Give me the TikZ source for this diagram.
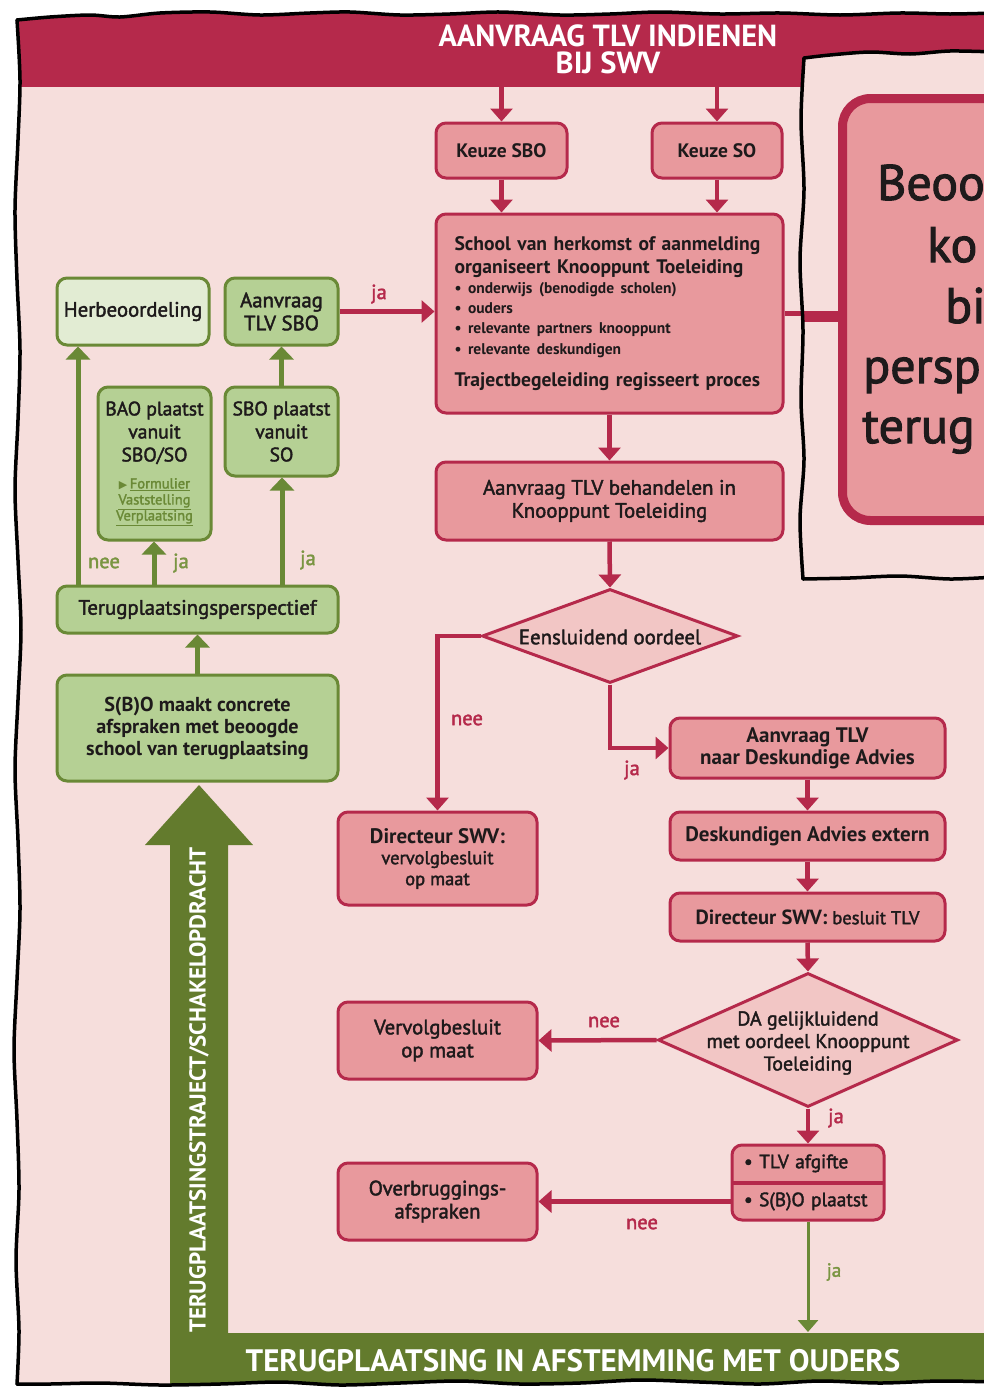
\documentclass[tikz,border=0pt]{standalone}
\usepackage{fontspec}
\setmainfont{PT Sans}
\newfontfamily\semib[FakeBold=2]{PT Sans}
\newfontfamily\symf{DejaVu Sans}
\newcommand\mybf{\rmfamily\bfseries}
\usetikzlibrary{arrows.meta,shapes.geometric,calc}
\definecolor{bgpink}{HTML}{F6DEDC}
\definecolor{crim}{HTML}{B5294B}
\definecolor{salmon}{HTML}{E8999D}
\definecolor{dpink}{HTML}{F2C6C5}
\definecolor{gdark}{HTML}{637B2D}
\definecolor{gline}{HTML}{6A8936}
\definecolor{gfill}{HTML}{B5D094}
\definecolor{glight}{HTML}{E2ECD3}
\definecolor{txt}{HTML}{1E1A1B}
\definecolor{glab}{HTML}{7A9542}
\tikzset{
  cbox/.style={draw=crim, fill=salmon, line width=3pt, rounded corners=10pt, align=center, text=txt, inner sep=0pt},
  gbox/.style={draw=gline, fill=gfill, line width=3pt, rounded corners=10pt, align=center, text=txt, inner sep=0pt},
  ddia/.style={diamond, draw=crim, fill=dpink, line width=3pt, inner sep=0pt},
  carrow/.style={draw=crim, line width=4.5pt, -{Triangle[width=22pt,length=13pt]}},
  garrow/.style={draw=gline, line width=5pt, -{Triangle[width=24pt,length=13pt]}},
  gthin/.style={draw=gline, line width=3pt, -{Triangle[width=20pt,length=12pt]}},
  clab/.style={text=crim, font=\semib\fontsize{20.5}{21}\selectfont},
  glabel/.style={text=glab, font=\semib\fontsize{20.5}{21}\selectfont},
  txtsemi/.style={font=\semib\fontsize{20.8}{23}\selectfont},
  txtbold/.style={font=\mybf\fontsize{21}{22}\selectfont},
  hdrtxt/.style={text=white, font=\mybf\fontsize{30.5}{30}\selectfont, inner sep=0pt},
  border/.style={draw=black, line width=3.5pt, line cap=round, line join=round},
  bigtxt/.style={text=txt, font=\semib\fontsize{50}{50}\selectfont, inner sep=0pt, anchor=base west},
}
\begin{document}
\begin{tikzpicture}[x=1pt,y=-1pt]
\useasboundingbox (0,0) rectangle (984,1387);
\clip (0,0) rectangle (984,1387);
\fill[bgpink] (0,0) rectangle (984,1387);
% header bar
\fill[crim] (0,0) rectangle (984,87);
\node[hdrtxt, anchor=base] (hdr1) at (608,46) {AANVRAAG TLV INDIENEN};
\node[hdrtxt, anchor=base] (hdr2) at (608,73) {BIJ SWV};

% green bars
\fill[gdark] (170,1395) -- (170,845) -- (145,845) -- (199,785) -- (253,845) -- (228,845) -- (228,1333) -- (995,1333) -- (995,1395) -- cycle;
\node[rotate=90, text=white, font=\mybf\fontsize{23}{23}\selectfont, inner sep=0pt] (vt) at (199,1090) {TERUGPLAATSINGSTRAJECT/SCHAKELOPDRACHT};
\node[text=white, font=\mybf\fontsize{31}{31}\selectfont, inner sep=0pt] (bt) at (573,1361) {TERUGPLAATSING IN AFSTEMMING MET OUDERS};

% crimson boxes
\node[cbox, minimum width=131pt, minimum height=55pt, font=\mybf\fontsize{19.5}{20}\selectfont] (ksbo) at (501.5,150.5) {Keuze SBO};
\node[cbox, minimum width=130pt, minimum height=55pt, font=\mybf\fontsize{19.5}{20}\selectfont] (kso) at (717,150.5) {Keuze SO};
\node[cbox, minimum width=347pt, minimum height=199pt, text width=310pt, align=left, font=\mybf\fontsize{19.6}{20}\selectfont] (school) at (609.5,313.5)
 {School van herkomst of aanmelding\\[3pt]
  organiseert Knooppunt Toeleiding\\
  {\fontsize{15.5}{20}\selectfont • onderwijs (benodigde scholen)}\\
  {\fontsize{15.5}{20}\selectfont • ouders}\\
  {\fontsize{15.5}{20}\selectfont • relevante partners knooppunt}\\[1pt]
  {\fontsize{15.5}{20}\selectfont • relevante deskundigen}\\[12pt]
  Trajectbegeleiding regisseert proces};
\node[cbox, txtsemi, minimum width=347pt, minimum height=78pt] (beh) at (609.5,501) {Aanvraag TLV behandelen in\\Knooppunt Toeleiding};
\node[ddia, minimum width=256pt, minimum height=94pt] (d1) at (610,636) {};
\node[txtsemi, text=txt, inner sep=0pt] (d1t) at (610,637) {Eensluidend oordeel};
\node[cbox, minimum width=199pt, minimum height=93pt, font=\semib\fontsize{18.5}{21}\selectfont] (dir1) at (437.5,858.5)
 {{\mybf\fontsize{21}{21}\selectfont Directeur SWV:}\\vervolgbesluit\\op maat};
\node[cbox, txtbold, minimum width=275pt, minimum height=60pt] (ada) at (807.5,748) {Aanvraag TLV\\naar Deskundige Advies};
\node[cbox, txtbold, minimum width=275pt, minimum height=48pt] (dae) at (807.5,836) {Deskundigen Advies extern};
\node[cbox, minimum width=275pt, minimum height=48pt, font=\semib\fontsize{18.5}{20}\selectfont] (dsb) at (807.5,917) {{\mybf\fontsize{20.5}{20}\selectfont Directeur SWV:} besluit TLV};
\node[ddia, minimum width=300pt, minimum height=134pt] (d2) at (808,1040) {};
\node[text=txt, align=center, inner sep=0pt, font=\semib\fontsize{20}{22.5}\selectfont] (d2t) at (808,1043) {DA gelijkluidend\\met oordeel Knooppunt\\Toeleiding};
\node[cbox, txtsemi, minimum width=199pt, minimum height=77pt] (verv) at (437.5,1040.5) {Vervolgbesluit\\op maat};
\node[cbox, minimum width=152pt, minimum height=75pt, text width=128pt, align=left, font=\semib\fontsize{19.3}{20}\selectfont] (tlv) at (808,1182.5) {• TLV afgifte\\[18pt]• S(B)O plaatst};
\coordinate (dv) at (808,1183);
\draw[crim, line width=4pt] ([xshift=1.5pt]tlv.west |- dv) -- ([xshift=-1.5pt]tlv.east |- dv);
\node[cbox, txtsemi, minimum width=199pt, minimum height=77pt] (ovb) at (437.5,1201.5) {Overbruggings-\\afspraken};

% green boxes
\node[gbox, fill=glight, txtsemi, minimum width=152pt, minimum height=67pt] (herb) at (133,311.5) {Herbeoordeling};
\node[gbox, txtsemi, minimum width=113pt, minimum height=67pt] (asbo) at (281.5,311.5) {Aanvraag\\TLV SBO};
\node[gbox, minimum width=113pt, minimum height=153pt, font=\semib\fontsize{19.6}{23}\selectfont] (bao) at (154.5,463.5)
 {BAO plaatst\\vanuit\\SBO/SO\\[4pt]
  {\fontsize{14.5}{16}\selectfont\color{gline}{\symf\fontsize{11}{12}\selectfont ▶}\,\underline{Formulier}}\\[-7pt]
  {\fontsize{14.5}{16}\selectfont\color{gline}\underline{Vaststelling}}\\[-7pt]
  {\fontsize{14.5}{16}\selectfont\color{gline}\underline{Verplaatsing}}};
\node[gbox, minimum width=113pt, minimum height=89pt, font=\semib\fontsize{19.6}{23}\selectfont] (sbo) at (281.5,431.5) {SBO plaatst\\vanuit\\SO};
\node[gbox, txtsemi, minimum width=281pt, minimum height=47pt] (tp) at (197.5,609.5) {Terugplaatsingsperspectief};
\node[gbox, font=\mybf\fontsize{20.2}{22}\selectfont, minimum width=281pt, minimum height=106pt] (maakt) at (197.5,728) {S(B)O maakt concrete\\afspraken met beoogde\\school van terugplaatsing};

% crimson connectors
\coordinate (h1) at (501.5,87);
\coordinate (h2) at (717,87);
\draw[carrow] (h1) -- (ksbo.north);
\draw[carrow] (h2) -- (kso.north);
\draw[carrow] (ksbo.south) -- (ksbo.south |- school.north);
\draw[carrow] (kso.south) -- (kso.south |- school.north);
\draw[carrow] (asbo.east) -- (asbo.east -| school.west);
\node[clab] (lja1) at (379,294) {ja};
\draw[carrow] (school.south) -- (beh.north);
\draw[carrow] (beh.south) -- (d1.north);
\draw[carrow] (d1.west) -| (dir1.north);
\node[clab] (lnee1) at (467,720) {nee};
\draw[carrow] (d1.south) |- (ada.west);
\node[clab] (lja2) at (632,770) {ja};
\draw[carrow] (ada.south) -- (dae.north);
\draw[carrow] (dae.south) -- (dsb.north);
\draw[carrow] (dsb.south) -- (d2.north);
\draw[carrow] (d2.west) -- (verv.east);
\node[clab] (lnee2) at (604,1022) {nee};
\draw[carrow] (d2.south) -- (tlv.north);
\node[clab] (lja3) at (836,1118) {ja};
\draw[carrow] (tlv.west |- ovb.east) -- (ovb.east);
\node[clab] (lnee3) at (642,1224) {nee};
\coordinate (bb) at (808,1332);
\draw[gthin] (tlv.south) -- (bb);
\node[glabel, font=\semib\fontsize{19}{20}\selectfont] (lja4) at (834,1272) {ja};

% green connectors
\coordinate (g1) at (78,586);
\coordinate (g2) at (154,586);
\coordinate (g3) at (282,586);
\draw[garrow] (g1) -- (g1 |- herb.south);
\draw[garrow] (g2) -- (g2 |- bao.south);
\draw[garrow] (g3) -- (g3 |- sbo.south);
\draw[garrow] (sbo.north) -- (asbo.south);
\draw[garrow] (maakt.north) -- (tp.south);
\node[glabel] (lnee5) at (104,563) {nee};
\node[glabel] (lja5) at (181,563) {ja};
\node[glabel] (lja6) at (308,560) {ja};

% school -> panel connector (thin part)
\draw[crim, line width=5pt] (school.east) -- (school.east -| 806,0);

% right panel
\fill[bgpink] plot[smooth] coordinates {(804,58) (830,55) (870,52) (910,54) (950,51) (995,52)} -- (995,578) -- plot[smooth] coordinates {(995,577) (950,579) (900,576) (850,578) (803,579)} -- plot[smooth] coordinates {(803,579) (800,520) (804,460) (801,400) (803,330) (800,260) (804,190) (801,120) (804,58)} -- cycle;
\node[draw=crim, fill=salmon, line width=9pt, rounded corners=28pt, minimum width=227.5pt, minimum height=422pt, inner sep=0pt] (pbox) at (956.25,309.5) {};
\coordinate (pj) at (803,316);
\draw[crim, line width=11pt] (pj) -- (pj -| pbox.west);
\node[bigtxt] (pt1) at (877,200) {Beoo};
\node[bigtxt] (pt2) at (927,262) {ko};
\node[bigtxt] (pt3) at (945,323) {bi};
\node[bigtxt] (pt4) at (863,383) {persp};
\node[bigtxt] (pt5) at (862,443) {terug};
\draw[border] plot[smooth] coordinates {(804,58) (830,55) (870,52) (910,54) (950,51) (995,52)};
\draw[border] plot[smooth] coordinates {(803,579) (800,520) (804,460) (801,400) (803,330) (800,260) (804,190) (801,120) (804,58)};
\draw[border] plot[smooth] coordinates {(995,577) (950,579) (900,576) (850,578) (803,579)};

% outer torn border
\fill[white, even odd rule] (-10,-10) rectangle (1000,1400)
  plot[smooth] coordinates {(17,20) (50,17) (90,15) (120,17) (160,13) (210,12) (260,15) (310,13) (350,12) (400,15) (450,14) (500,12) (560,15) (610,14) (660,12) (720,14) (780,13) (840,15) (900,13) (950,14) (995,13)}
  -- (995,1382)
  -- plot[smooth] coordinates {(995,1382) (940,1381) (880,1383) (820,1381) (760,1384) (700,1382) (640,1380) (580,1383) (520,1384) (460,1381) (400,1383) (340,1385) (280,1382) (220,1384) (160,1385) (100,1383) (50,1384) (17,1384)}
  -- plot[smooth] coordinates {(17,1384) (19,1330) (16,1260) (19,1190) (17,1120) (14,1050) (17,980) (20,910) (18,840) (15,770) (18,700) (21,630) (18,560) (15,490) (18,420) (20,350) (17,280) (15,210) (18,140) (20,80) (17,20)}
  -- cycle;
\draw[border] plot[smooth] coordinates {(17,20) (50,17) (90,15) (120,17) (160,13) (210,12) (260,15) (310,13) (350,12) (400,15) (450,14) (500,12) (560,15) (610,14) (660,12) (720,14) (780,13) (840,15) (900,13) (950,14) (995,13)};
\draw[border] plot[smooth] coordinates {(995,1382) (940,1381) (880,1383) (820,1381) (760,1384) (700,1382) (640,1380) (580,1383) (520,1384) (460,1381) (400,1383) (340,1385) (280,1382) (220,1384) (160,1385) (100,1383) (50,1384) (17,1384)};
\draw[border] plot[smooth] coordinates {(17,1384) (19,1330) (16,1260) (19,1190) (17,1120) (14,1050) (17,980) (20,910) (18,840) (15,770) (18,700) (21,630) (18,560) (15,490) (18,420) (20,350) (17,280) (15,210) (18,140) (20,80) (17,20)};
\end{tikzpicture}
\end{document}
